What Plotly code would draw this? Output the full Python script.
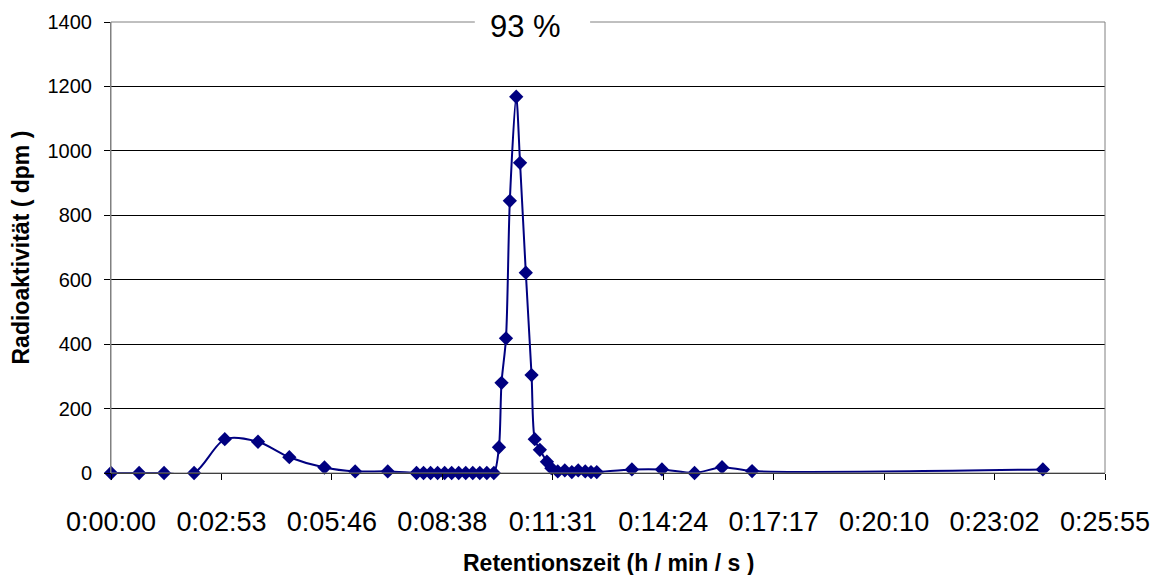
import plotly.graph_objects as go

# Retention time in seconds
times = [0, 44, 83, 130, 178, 230, 279, 334, 382, 433,
         478, 489, 500, 511, 522, 533, 544, 555, 566, 577, 588, 599,
         607, 611, 618, 624, 634, 640, 649, 658, 663, 671, 682, 689,
         699, 710, 721, 731, 742, 751, 760,
         815, 862, 913, 956, 1003, 1458]
# Radioactivity (dpm)
values = [0, 0, 0, 0, 105, 97, 49, 17, 5, 5,
          0, 0, 0, 0, 0, 0, 0, 0, 0, 0, 0, 0,
          80, 280, 418, 845, 1168, 963, 622, 304, 105, 72, 35, 15,
          5, 8, 3, 8, 5, 3, 3,
          11, 11, 0, 18, 6, 11]

tick_seconds = [0, 172.8, 345.6, 518.4, 691.2, 864, 1036.8, 1209.6, 1382.4, 1555.2]
tick_labels = ["0:00:00", "0:02:53", "0:05:46", "0:08:38", "0:11:31",
               "0:14:24", "0:17:17", "0:20:10", "0:23:02", "0:25:55"]
y_ticks = [0, 200, 400, 600, 800, 1000, 1200, 1400]

fig = go.Figure()
fig.add_trace(go.Scatter(
    x=times, y=values, mode="lines+markers",
    line=dict(color="#000080", width=2, shape="spline", smoothing=0.8),
    marker=dict(symbol="diamond", size=11, color="#000080"),
    showlegend=False, cliponaxis=False,
))

fig.update_layout(
    width=1152, height=567,
    margin=dict(l=103, r=55, t=14, b=102),
    paper_bgcolor="white", plot_bgcolor="white",
    font=dict(family="Arial, Liberation Sans, sans-serif", color="black"),
    xaxis=dict(
        range=[0, 1555.2], tickvals=tick_seconds, ticktext=tick_labels,
        tickfont=dict(size=27), showgrid=False, zeroline=False,
        showline=True, linecolor="black", linewidth=1,
        ticks="outside", ticklen=6, tickcolor="black",
        ticklabelstandoff=19, automargin=False,
    ),
    yaxis=dict(
        range=[0, 1400], tickvals=y_ticks,
        tickfont=dict(size=20), showgrid=True, gridcolor="black", gridwidth=1,
        zeroline=False, showline=True, linecolor="#808080", linewidth=1,
        ticks="outside", ticklen=6, tickcolor="black",
        ticklabelstandoff=8, automargin=False,
    ),
    shapes=[
        dict(type="rect", xref="paper", yref="paper", x0=0, x1=1, y0=0, y1=1,
             line=dict(color="#808080", width=1), layer="above"),
        dict(type="rect", xref="paper", yref="paper", x0=0.366, x1=0.482,
             y0=0.96, y1=1.02, line=dict(width=0), fillcolor="white", layer="above"),
    ],
    annotations=[
        dict(text="93 %", xref="paper", yref="paper", x=0.4165, y=1,
             yanchor="middle", yshift=-4, showarrow=False,
             font=dict(size=31)),
        dict(text="<b>Retentionszeit (h / min / s )</b>", xref="paper", yref="paper",
             x=0.5, y=0, yanchor="middle", yshift=-90, showarrow=False,
             font=dict(size=23)),
        dict(text="<b>Radioaktivität ( dpm )</b>", xref="paper", yref="paper",
             x=0, y=0.5, xanchor="center", xshift=-91, textangle=-90, showarrow=False,
             font=dict(size=23)),
    ],
)

fig.write_html("out.html")
